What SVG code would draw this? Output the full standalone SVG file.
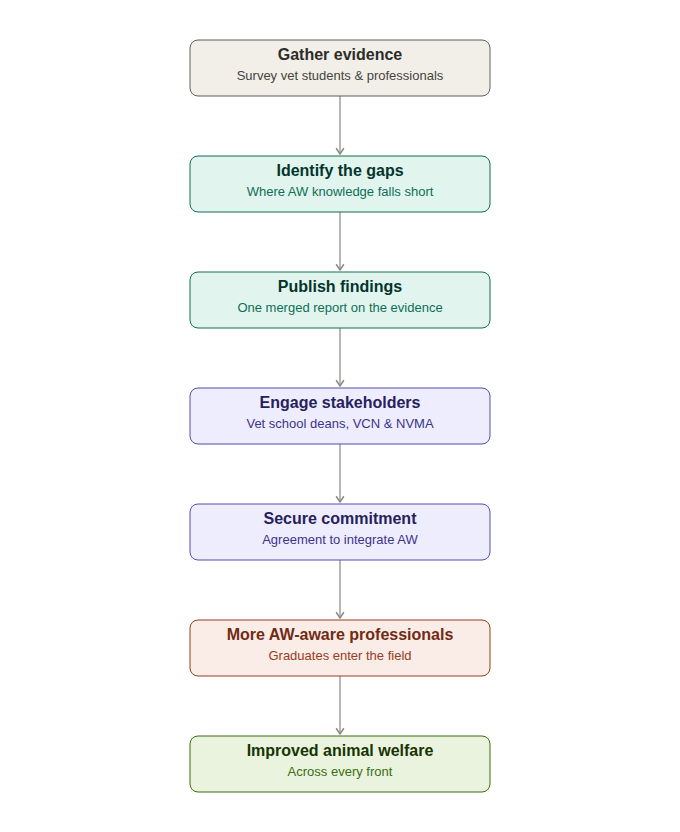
<svg xmlns="http://www.w3.org/2000/svg" width="680" height="832" viewBox="0 0 680 832">
<style>
.b{stroke-width:1}
.t{font-family:"Liberation Sans",Arial,sans-serif;font-size:16px;font-weight:bold;text-anchor:middle}
.s{font-family:"Liberation Sans",Arial,sans-serif;font-size:13px;text-anchor:middle}
.g rect{fill:#f1efe8;stroke:#5f5e5a}.g .t{fill:#2c2c2a}.g .s{fill:#444441}
.e rect{fill:#e1f5ee;stroke:#0f6e56}.e .t{fill:#04342c}.e .s{fill:#0f6e56}
.p rect{fill:#eeedfe;stroke:#534ab7}.p .t{fill:#26215c}.p .s{fill:#3c3489}
.c rect{fill:#faece7;stroke:#993c1d}.c .t{fill:#712b13}.c .s{fill:#993c1d}
.l rect{fill:#eaf3de;stroke:#3b6d11}.l .t{fill:#173404}.l .s{fill:#3b6d11}
.a{stroke:#888780;stroke-width:1.2;fill:none;marker-end:url(#m)}
</style>
<defs><marker id="m" viewBox="0 0 10 10" refX="8" refY="5" markerWidth="8" markerHeight="8" orient="auto"><path d="M2 1L8 5L2 9" fill="none" stroke="#888780" stroke-width="1.5"/></marker></defs>
<rect width="680" height="832" fill="#fff"/>
<g id="connectors">
<line class="a" x1="340" y1="96" x2="340" y2="154"/>
<line class="a" x1="340" y1="212" x2="340" y2="270"/>
<line class="a" x1="340" y1="328" x2="340" y2="386"/>
<line class="a" x1="340" y1="444" x2="340" y2="502"/>
<line class="a" x1="340" y1="560" x2="340" y2="618"/>
<line class="a" x1="340" y1="676" x2="340" y2="734"/>
</g>
<g id="n1" class="g"><rect x="190" y="40" width="300" height="56" rx="8"/><text class="t" x="340" y="60">Gather evidence</text><text class="s" x="340" y="80">Survey vet students &amp; professionals</text></g>
<g id="n2" class="e"><rect x="190" y="156" width="300" height="56" rx="8"/><text class="t" x="340" y="176">Identify the gaps</text><text class="s" x="340" y="196">Where AW knowledge falls short</text></g>
<g id="n3" class="e"><rect x="190" y="272" width="300" height="56" rx="8"/><text class="t" x="340" y="292">Publish findings</text><text class="s" x="340" y="312">One merged report on the evidence</text></g>
<g id="n4" class="p"><rect x="190" y="388" width="300" height="56" rx="8"/><text class="t" x="340" y="408">Engage stakeholders</text><text class="s" x="340" y="428">Vet school deans, VCN &amp; NVMA</text></g>
<g id="n5" class="p"><rect x="190" y="504" width="300" height="56" rx="8"/><text class="t" x="340" y="524">Secure commitment</text><text class="s" x="340" y="544">Agreement to integrate AW</text></g>
<g id="n6" class="c"><rect x="190" y="620" width="300" height="56" rx="8"/><text class="t" x="340" y="640">More AW-aware professionals</text><text class="s" x="340" y="660">Graduates enter the field</text></g>
<g id="n7" class="l"><rect x="190" y="736" width="300" height="56" rx="8"/><text class="t" x="340" y="756">Improved animal welfare</text><text class="s" x="340" y="776">Across every front</text></g>
</svg>
